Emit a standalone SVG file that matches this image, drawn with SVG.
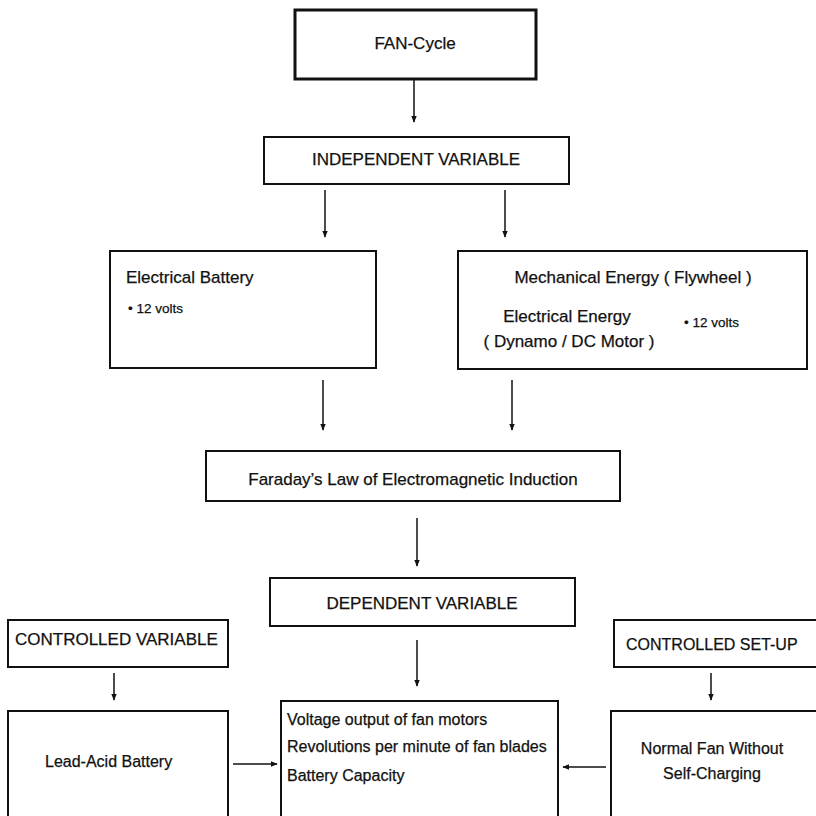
<svg xmlns="http://www.w3.org/2000/svg" width="816" height="816" viewBox="0 0 816 816">
<defs>
<marker id="ah" viewBox="0 0 10 10" refX="9" refY="5" markerWidth="7" markerHeight="7" markerUnits="userSpaceOnUse" orient="auto">
<path d="M0,1 L10,5 L0,9 z" fill="#111"/>
</marker>
<style>
.box{fill:#fff;stroke:#111;stroke-width:2}
.thick{stroke-width:3}
.t{font-family:"Liberation Sans",Arial,sans-serif;font-size:17px;fill:#111;stroke:#111;stroke-width:0.25}
.m{font-size:16px}
.s{font-size:13.5px}
.c{text-anchor:middle}
.conn line{stroke:#111;stroke-width:1.5;marker-end:url(#ah)}
</style>
</defs>
<rect width="816" height="816" fill="#fff"/>
<g id="fan-cycle"><rect class="box thick" x="295" y="10" width="241" height="69"/><text class="t c" x="415" y="49">FAN-Cycle</text></g>
<g id="independent"><rect class="box" x="264" y="137" width="305" height="47"/><text class="t c" x="416" y="165">INDEPENDENT VARIABLE</text></g>
<g id="electrical-battery"><rect class="box" x="110" y="251" width="266" height="117"/><text class="t" x="126" y="283">Electrical Battery</text><text class="t s" x="128" y="313">• 12 volts</text></g>
<g id="mechanical"><rect class="box" x="458" y="251" width="349" height="118"/><text class="t c" x="633" y="283">Mechanical Energy ( Flywheel )</text><text class="t c" x="567" y="322">Electrical Energy</text><text class="t c" x="569" y="347">( Dynamo / DC Motor )</text><text class="t s" x="684" y="327">• 12 volts</text></g>
<g id="faraday"><rect class="box" x="206" y="451" width="414" height="50"/><text class="t c" x="413" y="485">Faraday’s Law of Electromagnetic Induction</text></g>
<g id="dependent"><rect class="box" x="270" y="578" width="305" height="48"/><text class="t c" x="422" y="609">DEPENDENT VARIABLE</text></g>
<g id="controlled-variable"><rect class="box" x="8" y="620" width="220" height="47"/><text class="t" x="15" y="645">CONTROLLED VARIABLE</text></g>
<g id="controlled-setup"><rect class="box" x="614" y="620" width="204" height="47"/><text class="t m" x="626" y="650">CONTROLLED SET-UP</text></g>
<g id="lead-acid"><rect class="box" x="8" y="711" width="220" height="110"/><text class="t m" x="45" y="767">Lead-Acid Battery</text></g>
<g id="outputs"><rect class="box" x="281" y="701" width="277" height="120"/><text class="t m" x="287" y="725">Voltage output of fan motors</text><text class="t m" x="287" y="752">Revolutions per minute of fan blades</text><text class="t m" x="287" y="781">Battery Capacity</text></g>
<g id="normal-fan"><rect class="box" x="611" y="711" width="210" height="110"/><text class="t c m" x="712" y="754">Normal Fan Without</text><text class="t c m" x="712" y="779">Self-Charging</text></g>
<g id="connectors" class="conn">
<line x1="414" y1="80" x2="414" y2="122"/>
<line x1="325" y1="190" x2="325" y2="237"/>
<line x1="505" y1="190" x2="505" y2="237"/>
<line x1="323" y1="380" x2="323" y2="430"/>
<line x1="512" y1="380" x2="512" y2="430"/>
<line x1="417" y1="518" x2="417" y2="566"/>
<line x1="417" y1="640" x2="417" y2="686"/>
<line x1="114" y1="673" x2="114" y2="700"/>
<line x1="711" y1="673" x2="711" y2="700"/>
<line x1="233" y1="764" x2="277" y2="764"/>
<line x1="606" y1="767" x2="563" y2="767"/>
</g>
</svg>
